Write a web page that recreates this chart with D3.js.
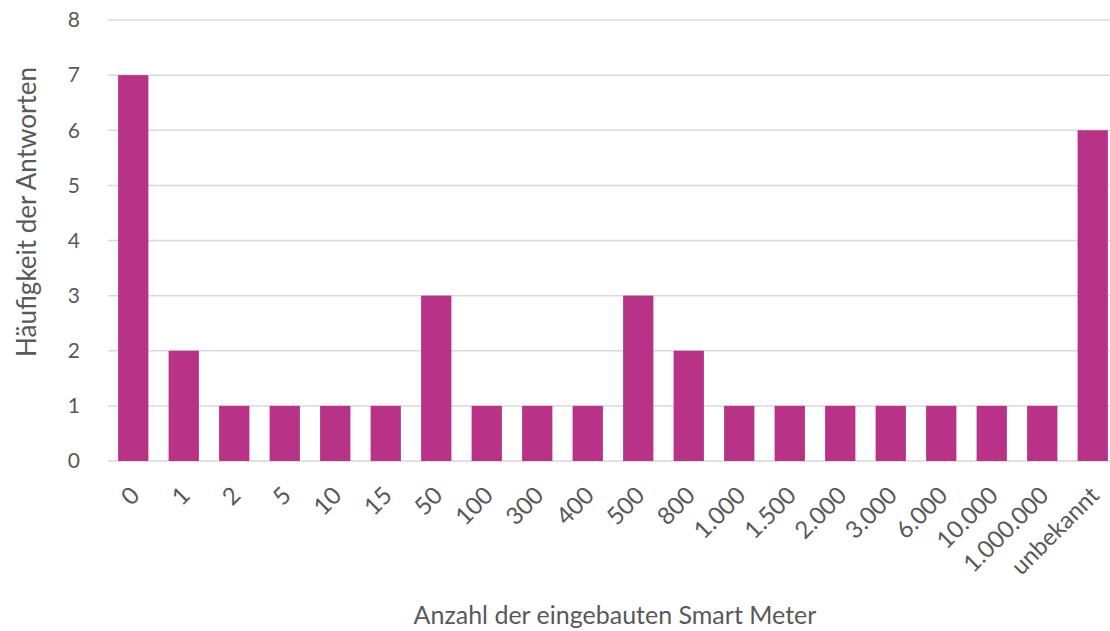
<!DOCTYPE html>
<html>
<head>
<meta charset="utf-8">
<script src="https://cdn.jsdelivr.net/npm/d3@7"></script>
<style>
  body { margin: 0; background: #fff; }
  svg { display: block; font-family: "Source Sans Pro", Lato, "Noto Sans", sans-serif; }
</style>
</head>
<body>
<svg id="chart" width="1110" height="631"></svg>
<script>
// data
const categories = ["0", "1", "2", "5", "10", "15", "50", "100", "300", "400", "500", "800",
  "1.000", "1.500", "2.000", "3.000", "6.000", "10.000", "1.000.000", "unbekannt"];
const counts = [7, 2, 1, 1, 1, 1, 3, 1, 1, 1, 3, 2, 1, 1, 1, 1, 1, 1, 1, 6];
const yTicks = [0, 1, 2, 3, 4, 5, 6, 7, 8];

const width = 1110, height = 631;
const margin = { top: 20, right: -8, bottom: 170, left: 108 };
const textColor = "#595959";

const svg = d3.select("#chart");

const x = d3.scaleBand()
  .domain(categories)
  .range([margin.left, width - margin.right])
  .paddingInner(0.4)
  .paddingOuter(0.2);

const y = d3.scaleLinear()
  .domain([0, 8])
  .range([height - margin.bottom, margin.top]);

// gridlines
svg.append("g")
  .selectAll("line")
  .data(yTicks)
  .join("line")
  .attr("x1", margin.left)
  .attr("x2", width)
  .attr("y1", d => y(d))
  .attr("y2", d => y(d))
  .attr("stroke", "#d9d9d9")
  .attr("stroke-width", 1.5);

// bars
svg.append("g")
  .selectAll("rect")
  .data(counts)
  .join("rect")
  .attr("x", (d, i) => x(categories[i]))
  .attr("width", x.bandwidth())
  .attr("y", d => y(d))
  .attr("height", d => y(0) - y(d))
  .attr("fill", "#b83388");

// y tick labels
svg.append("g")
  .selectAll("text")
  .data(yTicks)
  .join("text")
  .attr("x", 80)
  .attr("y", d => y(d))
  .attr("dy", "0.35em")
  .attr("text-anchor", "end")
  .attr("fill", textColor)
  .style("font-size", "21px")
  .text(d => d);

// x tick labels, rotated
svg.append("g")
  .selectAll("text")
  .data(categories)
  .join("text")
  .attr("transform", d => `translate(${x(d) + x.bandwidth() / 2 + 2},${y(0) + 30}) rotate(-45)`)
  .attr("text-anchor", "end")
  .attr("dy", "0.35em")
  .attr("fill", textColor)
  .style("font-size", "24px")
  .text(d => d);

// axis titles
svg.append("text")
  .attr("x", 615)
  .attr("y", 624)
  .attr("text-anchor", "middle")
  .attr("fill", textColor)
  .style("font-size", "25px")
  .text("Anzahl der eingebauten Smart Meter");

svg.append("text")
  .attr("transform", "translate(36,212) rotate(-90)")
  .attr("text-anchor", "middle")
  .attr("fill", textColor)
  .style("font-size", "26px")
  .text("Häufigkeit der Antworten");
</script>
</body>
</html>
